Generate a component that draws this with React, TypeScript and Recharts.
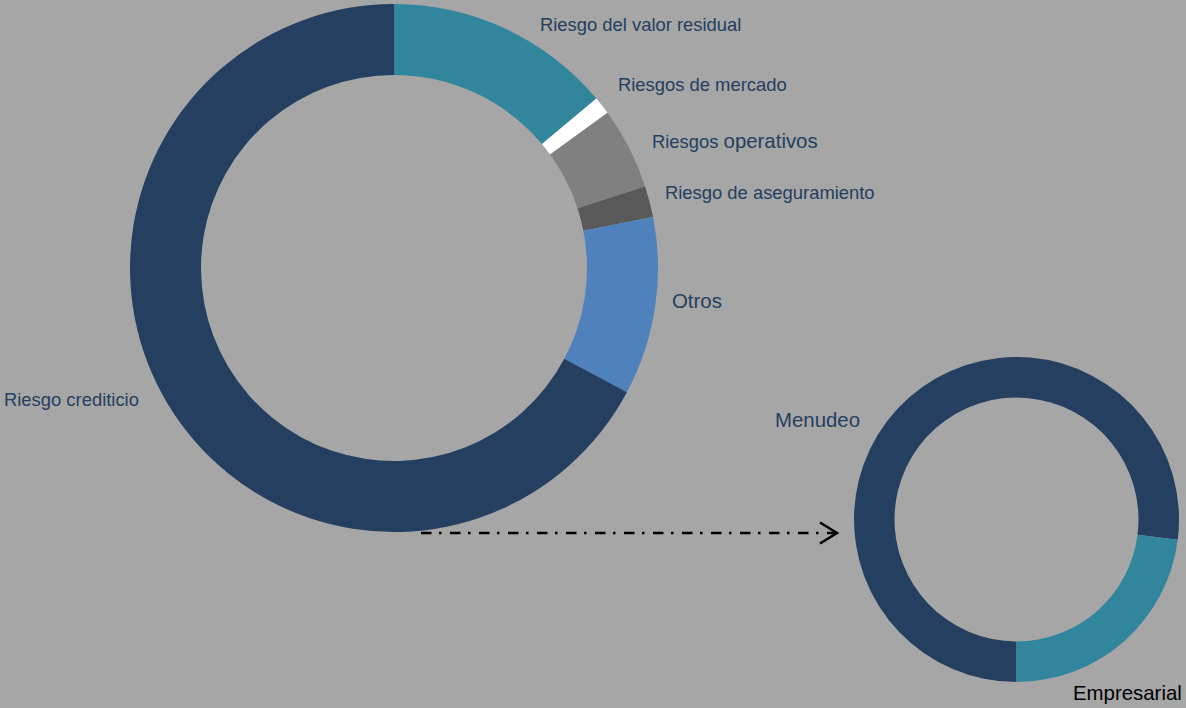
import { Cell, Customized, Pie, PieChart } from 'recharts';

// main donut: risk breakdown (% of total)
const riskNames = [
  'Riesgo del valor residual',
  'Riesgos de mercado',
  'Riesgos operativos',
  'Riesgo de aseguramiento',
  'Otros',
  'Riesgo crediticio',
];
const riskValues = [13.9, 1.1, 5.0, 1.9, 10.9, 67.2];

// detail donut: credit risk split
const creditNames = ['Menudeo', 'Empresarial'];
const creditValues = [77, 23];

const riskColors = ['#31859c', '#ffffff', '#808080', '#595959', '#4f81bd', '#243f60'];
const creditColors = ['#243f60', '#31859c'];

const riskData = riskNames.map((name, i) => ({ name, value: riskValues[i] }));
const creditData = creditNames.map((name, i) => ({ name, value: creditValues[i] }));

const FONT = '"Liberation Sans", Arial, sans-serif';
const TEXT = '#243f60';

// where each label sits (left x, baseline y, font size)
const riskLabelPos = [
  { x: 540, y: 31, size: 18.4 },
  { x: 618, y: 91, size: 18.4 },
  { x: 652, y: 148, size: 18.4 },
  { x: 665, y: 199, size: 18.4 },
  { x: 672, y: 308, size: 20.4 },
  { x: 4, y: 406, size: 18.4 },
];
const creditLabelPos = [
  { x: 775, y: 427, size: 20.4, color: TEXT },
  { x: 1073, y: 700, size: 20.4, color: '#000000' },
];

function riskLabel(props: any) {
  const i = props.index;
  const p = riskLabelPos[i];
  const name = riskNames[i];
  if (name === 'Riesgos operativos') {
    return (
      <text x={p.x} y={p.y} fill={TEXT} fontFamily={FONT} textAnchor="start">
        <tspan fontSize={18.4}>Riesgos </tspan>
        <tspan fontSize={20.4}>operativos</tspan>
      </text>
    );
  }
  return (
    <text x={p.x} y={p.y} fill={TEXT} fontFamily={FONT} fontSize={p.size} textAnchor="start">
      {name}
    </text>
  );
}

function creditLabel(props: any) {
  const p = creditLabelPos[props.index];
  return (
    <text x={p.x} y={p.y} fill={p.color} fontFamily={FONT} fontSize={p.size} textAnchor="start">
      {creditNames[props.index]}
    </text>
  );
}

function Arrow() {
  return (
    <g stroke="#000" strokeWidth={2.5} fill="none">
      <line x1={421} y1={533} x2={835} y2={533} strokeDasharray="10.5 7.5 2.5 8.5" />
      <polyline points="820,522.5 837,533 820,543.5" strokeLinejoin="miter" />
    </g>
  );
}

export default function App() {
  return (
    <div style={{ width: 1186, height: 708, background: '#a6a6a6', overflow: 'hidden' }}>
      <style>{'body{margin:0}'}</style>
      <PieChart width={1186} height={708} margin={{ top: 0, right: 0, bottom: 0, left: 0 }}>
        <Pie
          data={riskData}
          dataKey="value"
          nameKey="name"
          cx={394}
          cy={268}
          innerRadius={193}
          outerRadius={264}
          startAngle={90}
          endAngle={-270}
          stroke="none"
          label={riskLabel}
          labelLine={false}
          isAnimationActive={false}
        >
          {riskData.map((d, i) => <Cell key={d.name} fill={riskColors[i]} />)}
        </Pie>
        <Pie
          data={creditData}
          dataKey="value"
          nameKey="name"
          cx={1016.5}
          cy={519.5}
          innerRadius={122}
          outerRadius={162.5}
          startAngle={-90}
          endAngle={-450}
          stroke="none"
          label={creditLabel}
          labelLine={false}
          isAnimationActive={false}
        >
          {creditData.map((d, i) => <Cell key={d.name} fill={creditColors[i]} />)}
        </Pie>
        <Customized component={Arrow} />
      </PieChart>
    </div>
  );
}
